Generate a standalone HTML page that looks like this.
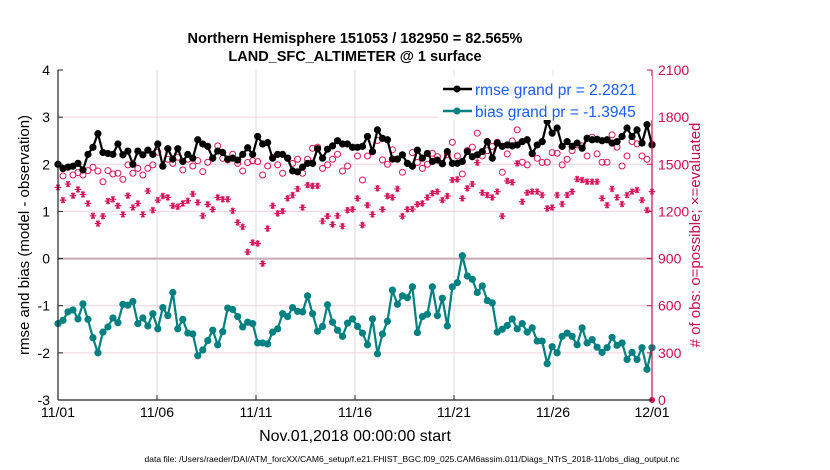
<!DOCTYPE html>
<html><head><meta charset="utf-8"><style>
body{margin:0;background:#fff;}
svg{display:block;font-family:"Liberation Sans",sans-serif;}
</style></head><body>
<svg id="chart" width="830" height="470" viewBox="0 0 830 470">
<rect width="830" height="470" fill="#fff"/>
<g id="grid"></g>
<g id="series"></g>
<g id="axes"></g>
<text x="355" y="43" text-anchor="middle" font-size="14.5" font-weight="bold">Northern Hemisphere 151053 / 182950 = 82.565%</text>
<text x="355" y="61" text-anchor="middle" font-size="14.5" font-weight="bold">LAND_SFC_ALTIMETER @ 1 surface</text>
<text x="355" y="441" text-anchor="middle" font-size="16">Nov.01,2018 00:00:00 start</text>
<text x="412" y="462" text-anchor="middle" font-size="8.6" textLength="535" lengthAdjust="spacingAndGlyphs">data file: /Users/raeder/DAI/ATM_forcXX/CAM6_setup/f.e21.FHIST_BGC.f09_025.CAM6assim.011/Diags_NTrS_2018-11/obs_diag_output.nc</text>
<text transform="translate(29,235) rotate(-90)" text-anchor="middle" font-size="15">rmse and bias (model - observation)</text>
<text transform="translate(700,235) rotate(-90)" text-anchor="middle" font-size="15" fill="#c8104e"># of obs: o=possible; ×=evaluated</text>
<g>
<rect x="438" y="76" width="214" height="44" fill="#fff"/>
<line x1="443" y1="89" x2="472" y2="89" stroke="#000" stroke-width="2.5"/>
<circle cx="457" cy="89" r="3.5" fill="#000"/>
<text x="475" y="95" font-size="15.5" fill="#1a5cff">rmse grand pr = 2.2821</text>
<line x1="443" y1="111" x2="472" y2="111" stroke="#008080" stroke-width="2.5"/>
<circle cx="457" cy="111" r="3.5" fill="#008080"/>
<text x="475" y="117" font-size="15.5" fill="#1a5cff">bias grand pr = -1.3945</text>
</g>
</svg>
<script>
const rmse=[2.0,1.91,1.94,1.96,2.02,1.88,2.21,2.36,2.65,2.25,2.23,2.21,2.43,2.2,2.28,2.0,2.28,2.2,2.3,2.21,2.43,1.96,2.33,2.11,2.33,2.06,2.21,2.13,2.52,2.43,2.38,2.13,2.28,2.25,2.11,2.13,2.09,2.21,2.35,2.21,2.59,2.43,2.46,2.13,2.21,2.21,2.13,1.86,1.84,1.94,2.02,2.02,2.33,2.13,2.32,2.39,2.5,2.43,2.43,2.36,
2.36,2.38,2.59,2.27,2.73,2.55,2.52,2.11,2.11,2.2,2.02,1.96,2.3,2.13,2.23,2.06,2.09,2.01,2.27,2.02,2.02,2.06,2.27,2.16,2.2,2.27,2.48,2.13,2.45,2.38,2.41,2.39,2.41,2.48,2.52,2.23,2.41,2.48,2.91,2.66,2.77,2.38,2.48,2.38,2.45,2.34,2.55,2.52,2.53,2.5,2.52,2.45,2.48,2.59,2.77,2.59,2.73,2.45,2.84,2.41];
const bias=[-1.38,-1.31,-1.13,-1.09,-1.28,-0.96,-1.29,-1.68,-2.0,-1.56,-1.45,-1.26,-1.36,-0.97,-0.99,-0.91,-1.38,-1.26,-1.43,-1.17,-1.49,-1.04,-1.21,-0.72,-1.49,-1.29,-1.58,-1.6,-2.06,-1.94,-1.74,-1.52,-1.83,-1.55,-1.05,-1.08,-1.23,-1.45,-1.35,-1.38,-1.79,-1.79,-1.81,-1.56,-1.49,-1.17,-1.23,-1.04,-1.12,-1.13,-0.79,-1.17,-1.54,-1.44,-0.98,-1.35,-1.52,-1.65,-1.37,
-1.28,-1.44,-1.58,-1.83,-1.28,-2.02,-1.6,-1.33,-0.67,-0.97,-0.79,-0.83,-0.6,-1.57,-1.23,-1.18,-0.6,-1.21,-0.84,-1.43,-0.6,-0.51,0.06,-0.37,-0.44,-0.72,-0.58,-0.89,-0.94,-1.56,-1.5,-1.42,-1.28,-1.49,-1.38,-1.56,-1.47,-1.75,-1.75,-2.23,-1.87,-2.0,-1.65,-1.58,-1.65,-1.83,-1.47,-1.79,-1.72,-1.88,-1.99,-1.89,-1.67,-1.84,-1.79,-2.14,-1.99,-2.14,-1.89,-2.35,-1.89];
const possible=[1500,1426,1481,1432,1447,1432,1460,1481,1457,1389,1460,1438,1443,1404,1496,1443,1474,1432,1474,1496,1577,1489,1532,1506,1545,1464,1532,1489,1523,1453,1513,1538,1617,1538,1528,1564,1506,1457,1511,1523,1517,1432,1489,1543,1496,1443,1538,1506,1532,1443,1532,1602,1609,1474,1496,1532,1564,1457,1489,1609,
1553,1400,1553,1581,1651,1528,1500,1592,1532,1449,1506,1574,1511,1474,1500,1570,1549,1506,1560,1640,1553,1438,1587,1609,1698,1553,1587,1613,1640,1449,1566,1649,1719,1513,1496,1566,1538,1511,1513,1574,1570,1496,1532,1587,1623,1617,1553,1672,1566,1513,1513,1687,1609,1489,1553,1645,1630,1553,1532,1628];
const evaluated=[1353,1272,1374,1300,1340,1308,1251,1172,1123,1170,1266,1277,1236,1181,1300,1225,1251,1181,1330,1208,1272,1298,1289,1236,1230,1251,1268,1311,1257,1172,1245,1213,1289,1277,1277,1204,1130,1102,942,1002,996,868,1091,1236,1187,1202,1283,1304,1343,1225,1368,1362,1362,1138,1170,1117,1172,1106,1208,1213,
1283,1113,1240,1181,1347,1213,1298,1289,1343,1170,1213,1215,1245,1251,1289,1315,1326,1272,1298,1400,1404,1283,1347,1374,1511,1319,1304,1289,1326,1170,1394,1385,1506,1262,1319,1326,1326,1304,1219,1225,1304,1247,1304,1326,1406,1400,1389,1389,1389,1283,1240,1343,1289,1247,1304,1326,1336,1272,1208,1326];
const xTickLabels=["11/01","11/06","11/11","11/16","11/21","11/26","12/01"];
const leftTicks=[-3,-2,-1,0,1,2,3,4];
const rightTicks=[0,300,600,900,1200,1500,1800,2100];

const X0=58,X1=652,Y0=70,Y1=400,NS="http://www.w3.org/2000/svg";
const xDay=d=>X0+(d/30)*(X1-X0);
const yL=v=>Y1-(v+3)/7*(Y1-Y0);
const yR=v=>Y1-v/2100*(Y1-Y0);
const idxDay=(i,n)=>i*30/(n-1);
function mk(tag,attrs,parent){const e=document.createElementNS(NS,tag);for(const k in attrs)e.setAttribute(k,attrs[k]);parent.appendChild(e);return e;}
const grid=document.getElementById('grid'),series=document.getElementById('series'),axes=document.getElementById('axes');

xTickLabels.forEach((t,i)=>{const x=xDay(i*5);
 if(i>0&&i<6){const l=mk('line',{x1:x,x2:x,y1:Y0,y2:Y1,stroke:'#dcdcdc','stroke-width':1},grid);
 
 }
 const tk=mk('line',{x1:x,x2:x,y1:Y1,y2:Y1-5,stroke:'#222'},axes);
 
 
 const tx=mk('text',{x:x,y:Y1+17,'text-anchor':'middle','font-size':14},axes);tx.textContent=t;
 
 });
leftTicks.forEach(v=>{const y=yL(v);
 if(v>-3&&v<4){const l=mk('line',{x1:X0,x2:X1,y1:y,y2:y,stroke:v===0?'#c8a8b4':'#f0d0dc','stroke-width':v===0?2:1},grid);
 
 }
 const tk=mk('line',{x1:X0,x2:X0+5,y1:y,y2:y,stroke:'#222'},axes);
 
 
 const tx=mk('text',{x:X0-8,y:y+5,'text-anchor':'end','font-size':14},axes);tx.textContent=v;
 
 });
rightTicks.forEach(v=>{const y=yR(v);
 const tk=mk('line',{x1:X1-5,x2:X1,y1:y,y2:y,stroke:'#c8104e'},axes);
 
 
 const tx=mk('text',{x:X1+6,y:y+5,'font-size':14,fill:'#c8104e'},axes);tx.textContent=v;
 
 });
[['left-y-axis',X0,Y0,X0,Y1,'#222'],['bottom-x-axis',X0,Y1,X1,Y1,'#222'],['right-y-axis',X1,Y0,X1,Y1,'#c8104e']].forEach(a=>{
 const l=mk('line',{x1:a[1],y1:a[2],x2:a[3],y2:a[4],stroke:a[5],'stroke-width':1.2},axes);
 
 });

const magenta='#d8155a';
possible.forEach((v,i)=>{const c=mk('circle',{cx:xDay(idxDay(i,possible.length)),cy:yR(v),r:3,fill:'none',stroke:magenta,'stroke-width':1},series);
 
 });
evaluated.forEach((v,i)=>{const x=xDay(idxDay(i,evaluated.length)),y=yR(v),r=3.3;
 const d=`M${x-r},${y}H${x+r}M${x-r*0.5},${y-r*0.87}L${x+r*0.5},${y+r*0.87}M${x-r*0.5},${y+r*0.87}L${x+r*0.5},${y-r*0.87}M${x},${y-r}V${y+r}`;
 const p=mk('path',{d:d,stroke:magenta,'stroke-width':1.2,fill:'none'},series);
 
 });
const endMark=mk('circle',{cx:X1,cy:yR(0),r:3,fill:magenta},series);



function line(arr,color,name){
 const pts=arr.map((v,i)=>xDay(idxDay(i,arr.length)).toFixed(1)+','+yL(v).toFixed(1)).join(' ');
 const p=mk('polyline',{points:pts,fill:'none',stroke:color,'stroke-width':2.2},series);
 
 
 arr.forEach((v,i)=>{const c=mk('circle',{cx:xDay(idxDay(i,arr.length)),cy:yL(v),r:3.6,fill:color},series);
  
  });
}
line(rmse,'#000','rmse');
line(bias,'#008080','bias');
</script>
</body></html>
